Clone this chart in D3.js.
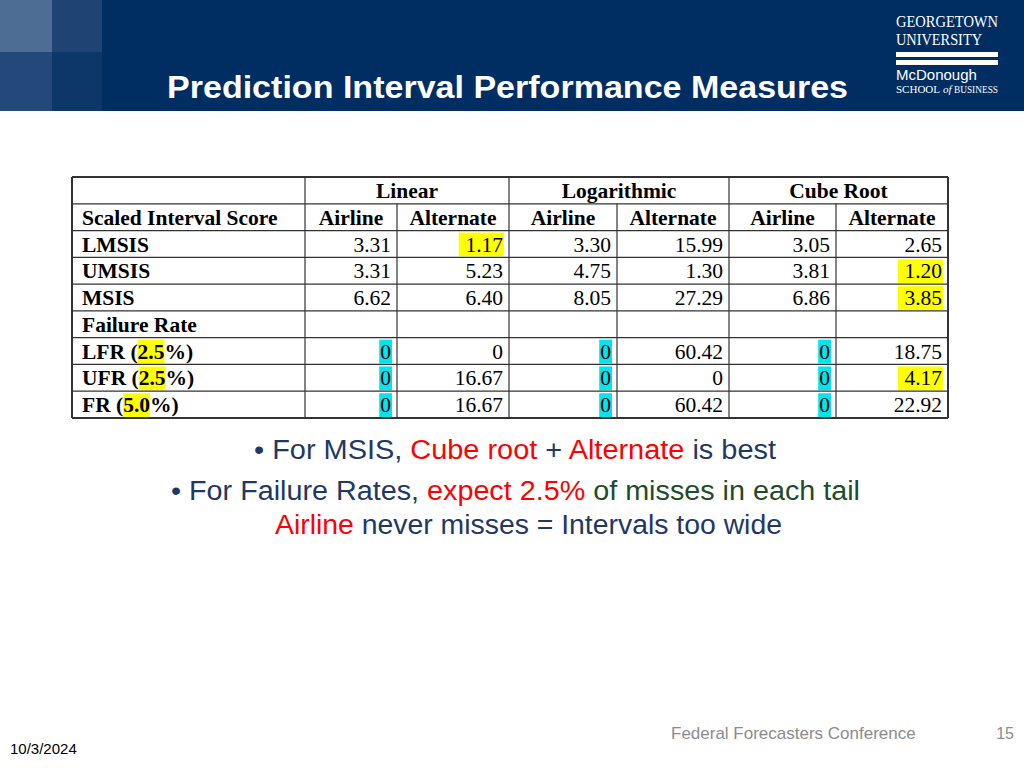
<!DOCTYPE html><html><head><meta charset="utf-8"><script src="https://d3js.org/d3.v7.min.js"></script>
<style>body{margin:0;background:#fff}svg{display:block}</style></head><body><svg id="s" width="1024" height="768"></svg>
<script>
const groups=["Linear","Logarithmic","Cube Root"];
const subCols=["Airline","Alternate"];
const rowLabels=["LMSIS","UMSIS","MSIS","Failure Rate","LFR (2.5%)","UFR (2.5%)","FR (5.0%)"];
const values=[
 ["3.31","1.17","3.30","15.99","3.05","2.65"],
 ["3.31","5.23","4.75","1.30","3.81","1.20"],
 ["6.62","6.40","8.05","27.29","6.86","3.85"],
 ["","","","","",""],
 ["0","0","0","60.42","0","18.75"],
 ["0","16.67","0","0","0","4.17"],
 ["0","16.67","0","60.42","0","22.92"]];
const yellowCells=[[0,1],[1,5],[2,5],[5,5]];
const cyanCells=[[4,0],[4,2],[4,4],[5,0],[5,2],[5,4],[6,0],[6,2],[6,4]];
const svg=d3.select("#s");
svg.append("rect").attr("width",1024).attr("height",111).attr("fill","#002d62");
svg.append("rect").attr("x",0).attr("y",0).attr("width",52).attr("height",52).attr("fill","#4d6d94");
svg.append("rect").attr("x",52).attr("y",0).attr("width",50).attr("height",52).attr("fill","#1f4373");
svg.append("rect").attr("x",0).attr("y",52).attr("width",52).attr("height",59).attr("fill","#24487a");
svg.append("rect").attr("x",52).attr("y",52).attr("width",50).attr("height",59).attr("fill","#0d3669");
svg.append("text").attr("x",167).attr("y",98).attr("fill","#fff").attr("font-family","Liberation Sans, Arial").attr("font-weight","bold").attr("font-size",31).attr("textLength",681).attr("lengthAdjust","spacingAndGlyphs").text("Prediction Interval Performance Measures");
const lg=svg.append("g").attr("fill","#fff").attr("font-family","Liberation Serif, Times New Roman");
lg.append("text").attr("x",896).attr("y",27).attr("font-size",16).attr("textLength",102).attr("lengthAdjust","spacingAndGlyphs").text("GEORGETOWN");
lg.append("text").attr("x",896).attr("y",45).attr("font-size",16).attr("textLength",86).attr("lengthAdjust","spacingAndGlyphs").text("UNIVERSITY");
lg.append("rect").attr("x",896).attr("y",52).attr("width",102).attr("height",5);
lg.append("rect").attr("x",896).attr("y",60).attr("width",102).attr("height",5);
lg.append("text").attr("x",896).attr("y",80).attr("font-size",15).attr("font-family","Liberation Sans, Arial").text("McDonough");
lg.append("text").attr("x",896).attr("y",93).attr("font-size",11).attr("textLength",44).attr("lengthAdjust","spacingAndGlyphs").text("SCHOOL");
lg.append("text").attr("x",943).attr("y",93).attr("font-size",11).attr("font-style","italic").text("of");
lg.append("text").attr("x",954).attr("y",93).attr("font-size",11).attr("textLength",44).attr("lengthAdjust","spacingAndGlyphs").text("BUSINESS");
const colX=[72,305,397,509,617,729,836,948];
const y=d3.scaleLinear().domain([0,9]).range([177,418]);
const rh=y(1)-y(0);
const t=svg.append("g").attr("font-family","Liberation Serif, Times New Roman").attr("font-size",21.5).attr("fill","#000");
function bgCell(r,c,col){const tx=values[r][c];const w=tx.length*10.8+2;t.append("rect").attr("x",colX[c+2]-5-w).attr("y",y(r+2)+2).attr("width",w).attr("height",rh-3).attr("fill",col);}
yellowCells.forEach(([r,c])=>bgCell(r,c,"#ffff00"));
cyanCells.forEach(([r,c])=>bgCell(r,c,"#00e5ee"));
groups.forEach((g,i)=>t.append("text").attr("x",(colX[1+2*i]+colX[3+2*i])/2).attr("y",y(0)+21).attr("text-anchor","middle").attr("font-weight","bold").text(g));
t.append("text").attr("x",82).attr("y",y(1)+21).attr("font-weight","bold").text("Scaled Interval Score");
for(let i=0;i<6;i++)t.append("text").attr("x",(colX[i+1]+colX[i+2])/2).attr("y",y(1)+21).attr("text-anchor","middle").attr("font-weight","bold").text(subCols[i%2]);
rowLabels.forEach((l,r)=>{
 const tx=t.append("text").attr("x",82).attr("y",y(r+2)+21).attr("font-weight","bold");
 const m=l.match(/^(.*\()(\d\.\d)(%\))$/);
 if(m){tx.append("tspan").text(m[1]);const node=tx.node();
  const w0=node.getComputedTextLength();const hl=t.insert("rect","text").attr("x",82+w0).attr("y",y(r+2)+2).attr("height",rh-3).attr("fill","#ffff00");
  tx.append("tspan").text(m[2]);hl.attr("width",node.getComputedTextLength()-w0);tx.append("tspan").text(m[3]);}
 else tx.text(l);
 values[r].forEach((v,c)=>t.append("text").attr("x",colX[c+2]-6).attr("y",y(r+2)+21).attr("text-anchor","end").text(v));
});
const ln=svg.append("g").attr("stroke","#333").attr("stroke-width",1.2);
for(let r=0;r<=9;r++)ln.append("line").attr("x1",72).attr("x2",948).attr("y1",y(r)).attr("y2",y(r)).attr("stroke-width",r==0||r==9?2:1.2);
colX.forEach((x,i)=>{const y0=(i==2||i==4||i==6)?y(1):y(0);ln.append("line").attr("x1",x).attr("x2",x).attr("y1",y0).attr("y2",y(9)).attr("stroke-width",i==0||i==7?2:1.2);});
const b=svg.append("g").attr("font-family","Liberation Sans, Arial").attr("font-size",27);
const blue="#1f3864",red="#ff0000",green="#1e4d2b";
function line(x,yy,len,parts){const tx=b.append("text").attr("x",x).attr("y",yy).attr("textLength",len).attr("lengthAdjust","spacingAndGlyphs");parts.forEach(([s,c])=>tx.append("tspan").attr("fill",c).text(s));}
line(254,459,522,[["•  For MSIS, ",blue],["Cube root",red],[" + ",blue],["Alternate",red],[" is best",blue]]);
line(171,500,689,[["•  For Failure Rates, ",blue],["expect 2.5%",red],[" of misses in each tail",green]]);
line(275,534,507,[["Airline",red],[" never misses = Intervals too wide",blue]]);
svg.append("text").attr("x",671).attr("y",739).attr("font-family","Liberation Sans, Arial").attr("font-size",17).attr("fill","#8c8c8c").text("Federal Forecasters Conference");
svg.append("text").attr("x",1014).attr("y",739).attr("text-anchor","end").attr("font-family","Liberation Sans, Arial").attr("font-size",16).attr("fill","#8c8c8c").text("15");
svg.append("text").attr("x",10).attr("y",754).attr("font-family","Liberation Sans, Arial").attr("font-size",15).attr("fill","#000").text("10/3/2024");
</script></body></html>
